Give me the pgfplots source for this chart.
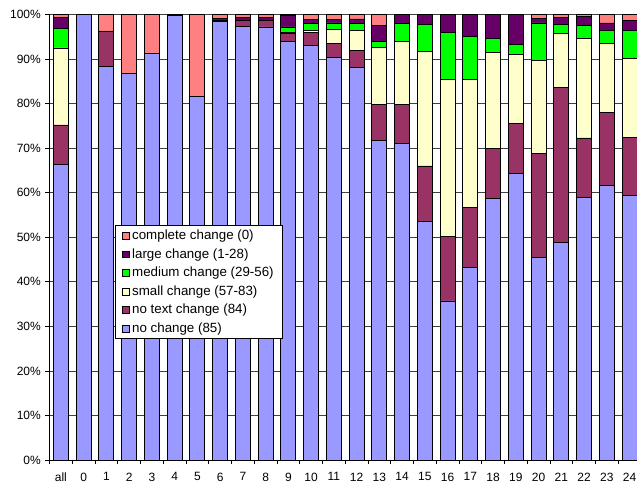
\documentclass[border=0pt]{standalone}
\usepackage{fontspec}
\setmainfont{Liberation Sans}
\usepackage{pgfplots}
\usepackage{pgfplotstable}
\pgfplotsset{compat=1.18}
\definecolor{cNC}{HTML}{9999FF}
\definecolor{cNT}{HTML}{993366}
\definecolor{cSM}{HTML}{FFFFCC}
\definecolor{cMD}{HTML}{00FF00}
\definecolor{cLG}{HTML}{660066}
\definecolor{cCC}{HTML}{FF8080}
\pgfplotstableread{
x nc nt sm md lg cc
0 66.4 8.8 17.3 4.3 2.5 0.7
1 100 0 0 0 0 0
2 88.3 8.0 0 0 0 3.7
3 86.8 0 0 0 0 13.2
4 91.3 0 0 0 0 8.7
5 99.8 0 0 0 0.2 0
6 81.6 0 0 0 0 18.4
7 98.4 0.3 0 0 0.5 0.8
8 97.4 1.2 0 0 0.7 0.7
9 97.2 1.5 0 0 0.7 0.6
10 94.0 1.7 0.2 1.3 2.5 0.3
11 93.0 2.9 0.6 1.4 1.0 1.1
12 90.4 3.2 3.0 1.5 0.8 1.1
13 88.2 3.7 4.6 1.4 1.1 1.0
14 71.8 8.0 12.9 1.3 3.5 2.5
15 71.1 8.7 14.1 4.0 2.1 0
16 53.6 12.4 25.7 6.0 2.3 0
17 35.7 14.5 35.2 10.6 4.0 0
18 43.3 13.3 28.8 9.6 5.0 0
19 58.7 11.3 21.5 3.2 5.3 0
20 64.4 11.1 15.5 2.3 6.7 0
21 45.4 23.4 20.9 8.4 1.0 0.9
22 48.9 34.8 12.0 2.0 1.7 0.6
23 58.9 13.4 22.3 2.9 2.1 0.4
24 61.7 16.3 15.6 2.8 1.7 1.9
25 59.4 13.1 17.6 6.3 2.3 1.3
}\datatable
\begin{document}
\begin{tikzpicture}
\begin{axis}[
  name=ax,
  scale only axis,
  width=443.625pt, height=334.125pt,
  xmin=-0.5, xmax=25.5, ymin=0, ymax=100,
  ybar stacked, bar width=0.66,
  xtick={0,1,...,25},
  xticklabels={all,0,1,2,3,4,5,6,7,8,9,10,11,12,13,14,15,16,17,18,19,20,21,22,23,24},
  minor xtick={-0.5,0.5,...,25.5},
  ytick={0,10,...,100},
  yticklabels={0\%,10\%,20\%,30\%,40\%,50\%,60\%,70\%,80\%,90\%,100\%},
  ymajorgrids,
  grid style={black!75, line width=0.55pt},
  axis x line*=bottom, axis y line*=left,
  axis line style={black, line width=0.6pt},
  tick align=outside,
  major tick length=3pt, minor tick length=3pt,
  major x tick style={draw=none},
  minor x tick style={black, line width=0.6pt},
  major y tick style={black, line width=0.6pt},
  xminorgrids=false,
  ticklabel style={font=\fontsize{9}{11}\selectfont},
  xticklabel style={yshift=-3pt},
  reverse legend,
  legend cell align=left,
  legend style={at={(0.111,0.527)}, anchor=north west, draw=black, fill=white,
    font=\fontsize{10}{12}\selectfont, row sep=1.15pt, inner xsep=4.8pt, inner ysep=1.3pt,
    line width=0.5pt},
  mybar/.style={fill=#1, draw=black, line width=0.6pt,
    legend image code/.code={\draw[fill=#1,draw=black,line width=0.5pt] (0pt,-2.6pt) rectangle (5.2pt,2.6pt);}},
]
\addplot[mybar=cNC] table[x=x,y=nc]{\datatable};
\addlegendentry{no change (85)}
\addplot[mybar=cNT] table[x=x,y=nt]{\datatable};
\addlegendentry{no text change (84)}
\addplot[mybar=cSM] table[x=x,y=sm]{\datatable};
\addlegendentry{small change (57-83)}
\addplot[mybar=cMD] table[x=x,y=md]{\datatable};
\addlegendentry{medium change (29-56)}
\addplot[mybar=cLG] table[x=x,y=lg]{\datatable};
\addlegendentry{large change (1-28)}
\addplot[mybar=cCC] table[x=x,y=cc]{\datatable};
\addlegendentry{complete change (0)}
\end{axis}
\pgfresetboundingbox
\path[use as bounding box] ([shift={(-37.125pt,-21.75pt)}]ax.south west) rectangle ([shift={(-3pt,10.875pt)}]ax.north east);
\end{tikzpicture}
\end{document}
